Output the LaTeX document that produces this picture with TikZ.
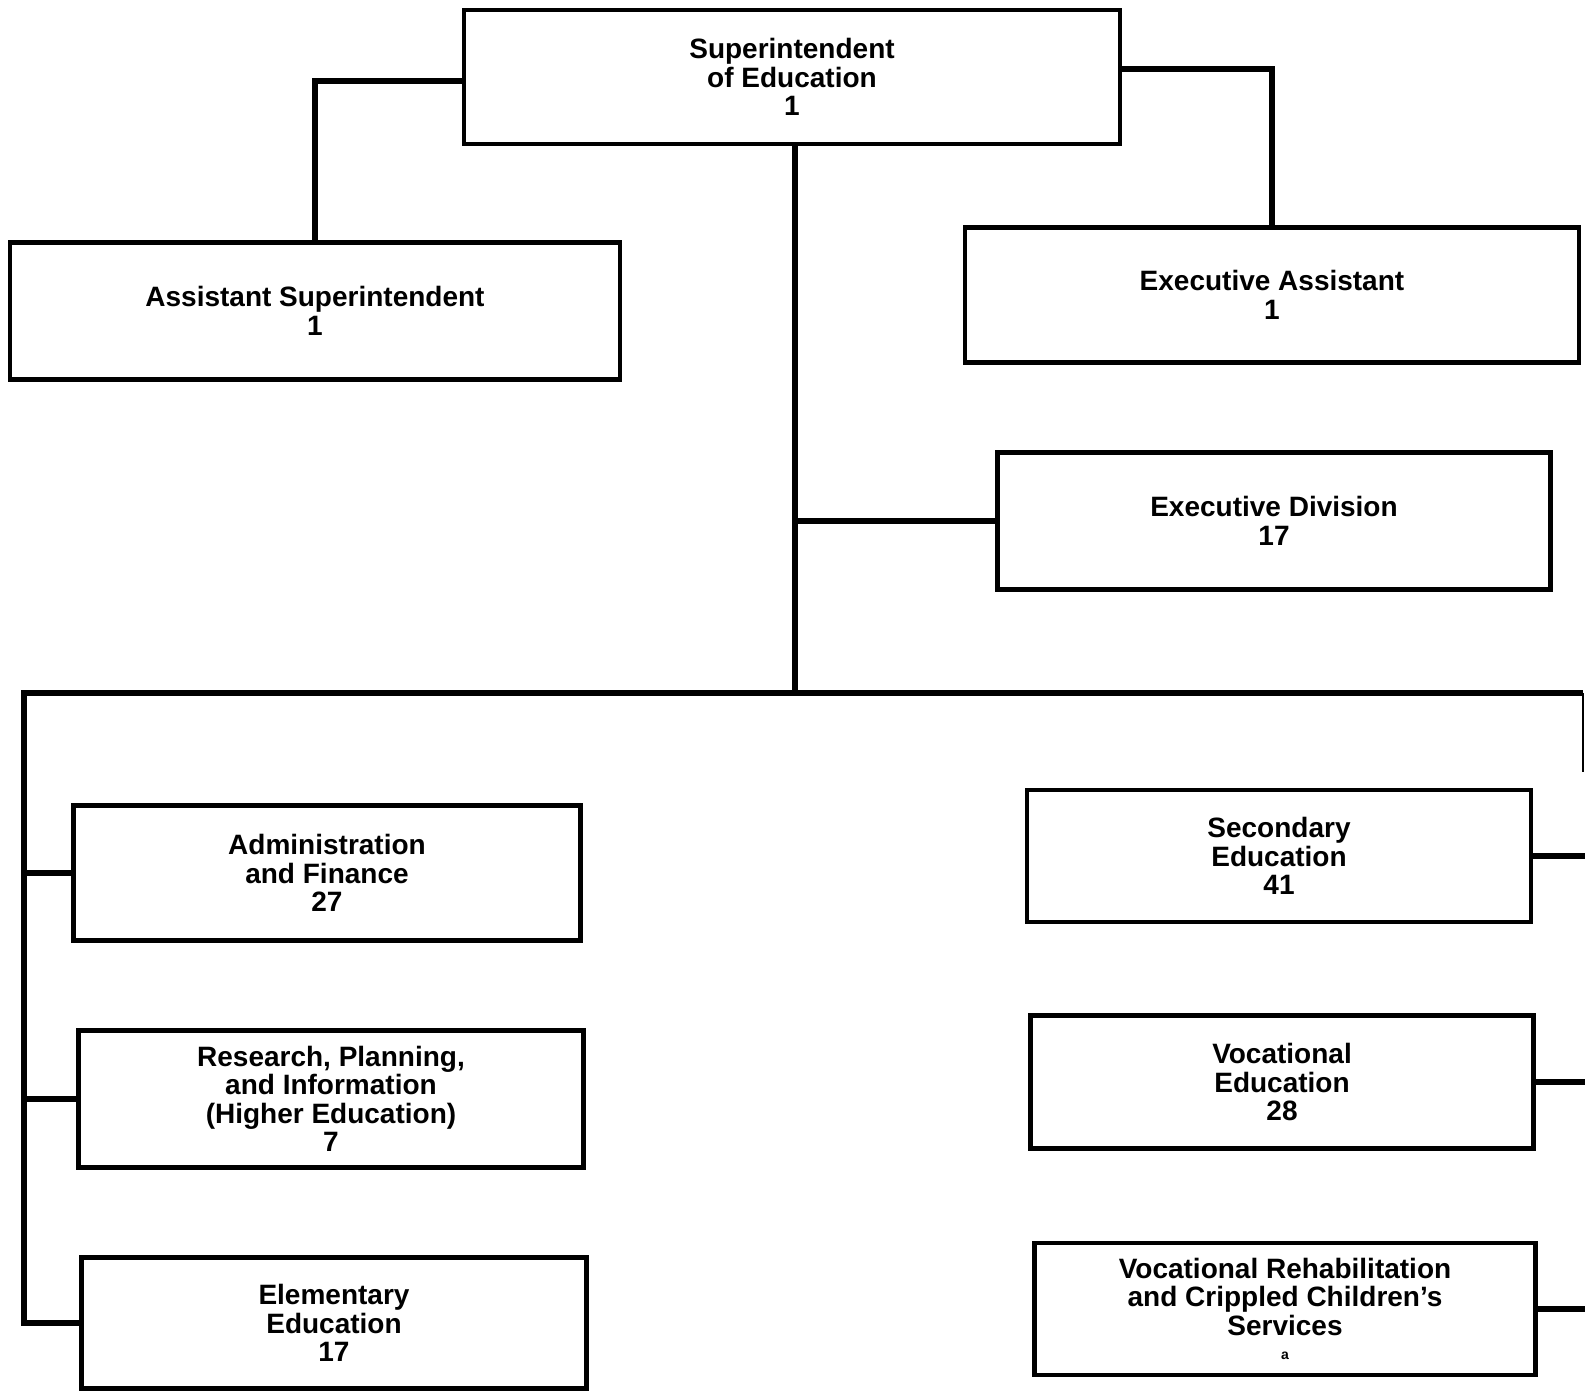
\documentclass[tikz,border=0pt]{standalone}
\usepackage{fontspec}
\setmainfont{Liberation Sans}
\usetikzlibrary{calc}
\begin{document}
\begin{tikzpicture}[x=1pt,y=-1pt,
  box/.style={draw, line width=4.5pt, inner sep=0pt, align=center,
    font=\bfseries\fontsize{28}{28.5}\selectfont},
  conn/.style={line width=6.5pt, line join=miter},
  thinconn/.style={line width=2.5pt}]
\useasboundingbox (0,0) rectangle (1585,1391);

% top level
\node[box, minimum width=656, minimum height=134] (sup) at (792,77)
  {Superintendent\\of Education\\1};
\node[box, minimum width=610, minimum height=137] (asst) at (315,311)
  {Assistant Superintendent\\1};
\node[box, minimum width=614, minimum height=135] (exa) at (1272,295)
  {Executive Assistant\\1};
\node[box, minimum width=553, minimum height=137] (exd) at (1274,521)
  {Executive Division\\17};

% left-hand divisions
\node[box, minimum width=507, minimum height=135] (adm) at (327,873)
  {Administration\\and Finance\\27};
\node[box, minimum width=505, minimum height=137] (res) at (331,1099)
  {Research, Planning,\\and Information\\(Higher Education)\\7};
\node[box, minimum width=505, minimum height=131] (ele) at (334,1323)
  {Elementary\\Education\\17};

% right-hand divisions
\node[box, minimum width=504, minimum height=132] (sec) at (1279,856)
  {Secondary\\Education\\41};
\node[box, minimum width=503, minimum height=133] (voc) at (1282,1082)
  {Vocational\\Education\\28};
\node[box, minimum width=501, minimum height=132] (vrh) at (1285,1309)
  {Vocational Rehabilitation\\and Crippled Children's\\Services\\[-4pt]{\fontsize{14}{14}\selectfont a}};

% bus coordinates
\coordinate (tb) at (795,693);
\coordinate (bl) at (24,693);
\coordinate (br) at (1583,693);
\coordinate (brend) at (1583,772);

% superintendent to assistants
\draw[conn] ($(sup.west)+(0,4)$) -| (asst.north);
\draw[conn] ($(sup.east)+(0,-8)$) -| (exa.north);

% main trunk and executive division
\draw[conn] (sup.south -| tb) -- (tb);
\draw[conn] (tb |- exd.west) -- (exd.west);

% horizontal bus and left branch
\draw[conn] (br) -- (bl) -- (bl |- ele.west) -- (ele.west);
\draw[conn] (bl |- adm.west) -- (adm.west);
\draw[conn] (bl |- res.west) -- (res.west);

% right branch
\draw[thinconn] (br) -- (brend);
\draw[conn] (sec.east) -- (sec.east -| 1590,0);
\draw[conn] (voc.east) -- (voc.east -| 1590,0);
\draw[conn] (vrh.east) -- (vrh.east -| 1590,0);
\end{tikzpicture}
\end{document}
